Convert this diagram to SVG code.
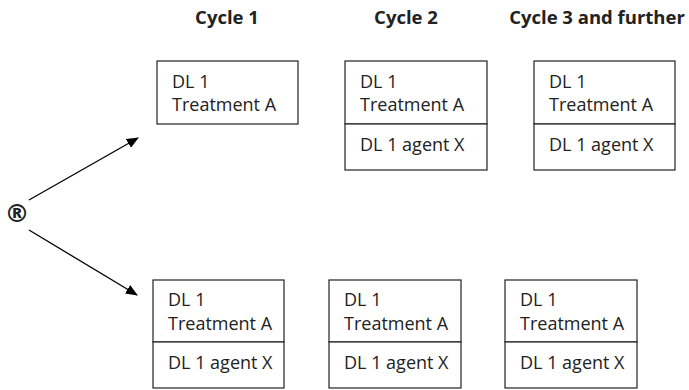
<svg xmlns="http://www.w3.org/2000/svg" width="689" height="390" viewBox="0 0 689 390">
<defs>
<style>
.box{fill:#fff;stroke:#222;stroke-width:1.2}
.t{font-family:"Open Sans",sans-serif;font-size:18px;fill:#222}
.h{font-family:"Open Sans",sans-serif;font-size:18.5px;font-weight:bold;fill:#222;text-anchor:middle}
.c{stroke:#000;stroke-width:1.3;fill:none;marker-end:url(#ah)}
</style>
<marker id="ah" markerWidth="12" markerHeight="10" refX="11" refY="5" orient="auto" markerUnits="userSpaceOnUse">
<path d="M0,0 L12,5 L0,10 Z" fill="#000"/>
</marker>
</defs>
<rect width="689" height="390" fill="#fff"/>
<g id="headers">
<text class="h" x="227" y="24">Cycle 1</text>
<text class="h" x="406" y="24">Cycle 2</text>
<text class="h" x="597" y="24">Cycle 3 and further</text>
</g>
<g id="rand">
<text x="17" y="222" font-family="DejaVu Sans,sans-serif" font-weight="bold" font-size="25" text-anchor="middle" fill="#222">®</text>
</g>
<g id="connectors">
<line class="c" x1="29" y1="200" x2="138" y2="138"/>
<line class="c" x1="29" y1="230" x2="137" y2="295"/>
</g>
<g id="top-c1">
<rect class="box" x="157" y="61" width="141" height="63"/>
<text class="t" x="172" y="88">DL 1</text>
<text class="t" x="172" y="111">Treatment A</text>
</g>
<g id="top-c2">
<rect class="box" x="345" y="61" width="142" height="63"/>
<rect class="box" x="345" y="124" width="142" height="46"/>
<text class="t" x="360" y="88">DL 1</text>
<text class="t" x="360" y="111">Treatment A</text>
<text class="t" x="360" y="151">DL 1 agent X</text>
</g>
<g id="top-c3">
<rect class="box" x="534" y="61" width="141" height="63"/>
<rect class="box" x="534" y="124" width="141" height="46"/>
<text class="t" x="549" y="88">DL 1</text>
<text class="t" x="549" y="111">Treatment A</text>
<text class="t" x="549" y="151">DL 1 agent X</text>
</g>
<g id="bot-c1">
<rect class="box" x="153" y="280" width="131" height="62"/>
<rect class="box" x="153" y="342" width="131" height="46"/>
<text class="t" x="168" y="306">DL 1</text>
<text class="t" x="168" y="330">Treatment A</text>
<text class="t" x="168" y="369">DL 1 agent X</text>
</g>
<g id="bot-c2">
<rect class="box" x="329" y="280" width="132" height="62"/>
<rect class="box" x="329" y="342" width="132" height="46"/>
<text class="t" x="344" y="306">DL 1</text>
<text class="t" x="344" y="330">Treatment A</text>
<text class="t" x="344" y="369">DL 1 agent X</text>
</g>
<g id="bot-c3">
<rect class="box" x="505" y="280" width="132" height="62"/>
<rect class="box" x="505" y="342" width="132" height="46"/>
<text class="t" x="520" y="306">DL 1</text>
<text class="t" x="520" y="330">Treatment A</text>
<text class="t" x="520" y="369">DL 1 agent X</text>
</g>
</svg>
